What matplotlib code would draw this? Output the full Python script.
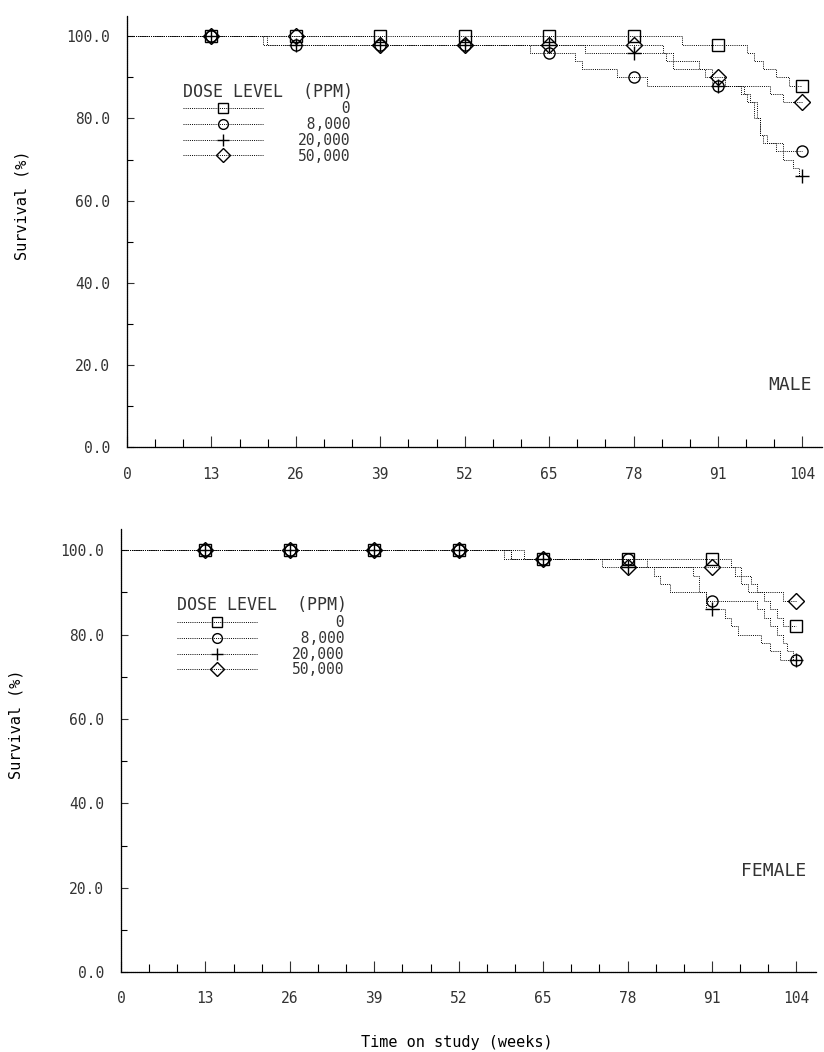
import numpy as np
import matplotlib
matplotlib.use("Agg")
import matplotlib.pyplot as plt
from matplotlib.ticker import MultipleLocator, FixedLocator, FuncFormatter

# Survival data (step functions): weeks where survival changes, and the value from then on
DOSES = ["0", "8,000", "20,000", "50,000"]
MARKERS = ["s", "o", "+", "D"]

m_weeks_0 = [0, 85.5, 95.5, 96.5, 98, 100, 102, 104]
m_surv_0 = [100, 98, 96, 94, 92, 90, 88, 88]
m_weeks_8k = [0, 21.5, 62, 69, 70, 75.5, 80, 94.5, 95.5, 96.5, 97.5, 98.5, 101, 104]
m_surv_8k = [100, 98, 96, 94, 92, 90, 88, 86, 84, 80, 76, 74, 72, 72]
m_weeks_20k = [0, 21, 70.5, 83, 84, 89, 90, 95, 96, 97, 97.5, 98, 100, 101, 102.5, 103.5, 104]
m_surv_20k = [100, 98, 96, 94, 92, 90, 88, 86, 84, 80, 76, 74, 72, 70, 68, 66, 66]
m_weeks_50k = [0, 38, 82.5, 84, 88, 90, 92, 99, 101, 104]
m_surv_50k = [100, 98, 96, 94, 92, 90, 88, 86, 84, 84]

f_weeks_0 = [0, 59, 94, 95.5, 97, 98, 99, 100, 101, 102, 104]
f_surv_0 = [100, 98, 96, 94, 92, 90, 88, 86, 84, 82, 82]
f_weeks_8k = [0, 60, 81, 82, 83, 84.5, 90, 98, 99, 100, 101, 102, 102.5, 103.5, 104]
f_surv_8k = [100, 98, 96, 94, 92, 90, 88, 86, 84, 82, 80, 78, 76, 74, 74]
f_weeks_20k = [0, 62, 74, 88, 89, 90, 93, 94, 95, 98.5, 100, 101.5, 104]
f_surv_20k = [100, 98, 96, 94, 90, 86, 84, 82, 80, 78, 76, 74, 74]
f_weeks_50k = [0, 60, 78, 94.5, 95.5, 96.5, 102, 104]
f_surv_50k = [100, 98, 96, 94, 92, 90, 88, 88]

MARK_WEEKS = [13, 26, 39, 52, 65, 78, 91, 104]
X_TICKS = [0, 13, 26, 39, 52, 65, 78, 91, 104]
Y_TICKS = [0, 20, 40, 60, 80, 100]

male = [(m_weeks_0, m_surv_0), (m_weeks_8k, m_surv_8k),
        (m_weeks_20k, m_surv_20k), (m_weeks_50k, m_surv_50k)]
female = [(f_weeks_0, f_surv_0), (f_weeks_8k, f_surv_8k),
          (f_weeks_20k, f_surv_20k), (f_weeks_50k, f_surv_50k)]

INK = "#333333"
MONO = "DejaVu Sans Mono"
plt.rcParams.update({"font.family": MONO, "text.color": INK})


def surv_at(weeks, surv, t):
    idx = np.searchsorted(weeks, t, side="right") - 1
    return np.asarray(surv)[idx]


def panel(ax, groups, sex, sex_y, legend_y):
    handles = []
    for (wk, sv), mk in zip(groups, MARKERS):
        ax.step(wk, sv, where="post", color="black", lw=0.7,
                linestyle=(0, (1, 1.2)))
        ax.plot(MARK_WEEKS, surv_at(wk, sv, MARK_WEEKS), linestyle="none",
                marker=mk, ms=8 if mk != "+" else 10, mfc="none",
                mec="black", mew=1.0)
        h, = ax.plot([], [], color="black", lw=0.7, linestyle=(0, (1, 1.2)),
                     marker=mk, ms=7 if mk != "+" else 9, mfc="none",
                     mec="black", mew=1.0)
        handles.append(h)

    ax.set_xlim(0, 107)
    ax.set_ylim(0, 105)
    for s in ("top", "right"):
        ax.spines[s].set_visible(False)
    for s in ("left", "bottom"):
        ax.spines[s].set_linestyle((0, (1, 0.6)))
        ax.spines[s].set_linewidth(0.9)
        ax.spines[s].set_color("black")

    ax.xaxis.set_major_locator(FixedLocator(X_TICKS))
    ax.xaxis.set_minor_locator(MultipleLocator(13 / 3))
    ax.yaxis.set_major_locator(FixedLocator(Y_TICKS))
    ax.yaxis.set_minor_locator(MultipleLocator(10))
    ax.yaxis.set_major_formatter(FuncFormatter(lambda v, p: f"{v:.1f}"))
    ax.tick_params(axis="x", which="major", direction="in", length=8,
                   width=0.8, pad=14, labelsize=10.5, colors=INK)
    ax.tick_params(axis="x", which="minor", direction="in", length=6, width=0.8)
    ax.tick_params(axis="y", which="major", direction="in", length=5,
                   width=0.8, pad=12, labelsize=10.5, colors=INK)
    ax.tick_params(axis="y", which="minor", direction="in", length=4, width=0.8)

    ax.set_ylabel("Survival (%)", fontsize=11)
    ax.yaxis.set_label_coords(-0.14, 0.56)

    labels = [f"{d:>6}" for d in DOSES]
    leg = ax.legend(handles, labels, title="DOSE LEVEL  (PPM)", loc="upper left",
                    bbox_to_anchor=(0.08, legend_y), frameon=False,
                    handlelength=5.5, handletextpad=2.4, labelspacing=0.05,
                    borderpad=0, borderaxespad=0, fontsize=10.5,
                    title_fontsize=12, alignment="left", numpoints=1)
    for t in leg.get_texts():
        t.set_color(INK)

    ax.text(105.5, sex_y, sex, ha="right", va="center", fontsize=13, color=INK)


fig = plt.figure(figsize=(8.24, 10.52), dpi=100)
ax1 = fig.add_axes([0.1541, 0.575, 0.8434, 0.410])
ax2 = fig.add_axes([0.1468, 0.076, 0.8434, 0.421])

panel(ax1, male, "MALE", 15, 0.845)
panel(ax2, female, "FEMALE", 24, 0.848)

ax2.set_xlabel("Time on study (weeks)", fontsize=11)
ax2.xaxis.set_label_coords(0.483, -0.142)

fig.savefig("out.png", dpi=100)
